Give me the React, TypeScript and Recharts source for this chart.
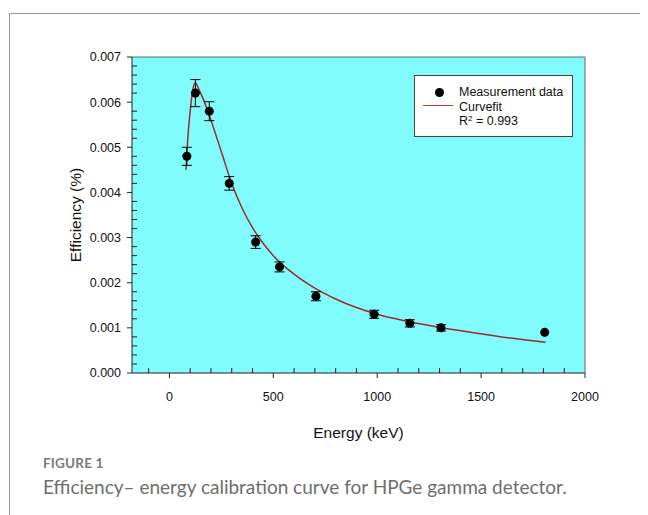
import {
  ComposedChart,
  Line,
  Scatter,
  ErrorBar,
  XAxis,
  YAxis,
  CartesianGrid,
  Legend,
} from 'recharts';

// measured points (keV, efficiency, error)
const energy = [84, 125, 192, 288, 415, 530, 705, 985, 1157, 1307, 1806];
const efficiency = [0.0048, 0.0062, 0.0058, 0.0042, 0.0029, 0.00235, 0.0017, 0.0013, 0.0011, 0.001, 0.0009];
const errors = [0.0002, 0.0003, 0.00021, 0.00015, 0.00014, 0.00011, 0.0001, 0.00009, 0.00008, 0.00007, 0];

// fitted curve
const fitEnergy = [80, 90, 100, 110, 125, 140, 160, 200, 250, 300, 350, 400, 450, 500, 600, 700, 800, 900, 1000, 1150, 1300, 1500, 1650, 1810];
const fitEfficiency = [0.0045, 0.0053, 0.0058, 0.0062, 0.00643, 0.0063, 0.0061, 0.0056, 0.0049, 0.0042, 0.00365, 0.00322, 0.00288, 0.0026, 0.00219, 0.00188, 0.00164, 0.00145, 0.0013, 0.00114, 0.00101, 0.00087, 0.00077, 0.00068];

const xTicks = [0, 500, 1000, 1500, 2000];
const xMinorTicks = [-100, 100, 200, 300, 400, 600, 700, 800, 900, 1100, 1200, 1300, 1400, 1600, 1700, 1800, 1900];
const yTicks = [0, 0.001, 0.002, 0.003, 0.004, 0.005, 0.006, 0.007];
const yMinorTicks = [
  0.0002, 0.0004, 0.0006, 0.0008, 0.0012, 0.0014, 0.0016, 0.0018,
  0.0022, 0.0024, 0.0026, 0.0028, 0.0032, 0.0034, 0.0036, 0.0038,
  0.0042, 0.0044, 0.0046, 0.0048, 0.0052, 0.0054, 0.0056, 0.0058,
  0.0062, 0.0064, 0.0066, 0.0068,
];

const points = energy.map((e, i) => ({ e, v: efficiency[i], err: errors[i] }));
const curve = fitEnergy.map((e, i) => ({ e, v: fitEfficiency[i] }));
const allXTicks = [...xTicks, ...xMinorTicks].sort((a, b) => a - b);

const FONT = '"Liberation Sans", Arial, sans-serif';
const X_DOMAIN: [number, number] = [-180, 2000];
const Y_DOMAIN: [number, number] = [0, 0.007];
const X_TICK_SIZE = 5;
const X_TICK_MARGIN = 14;

// majors point down with a label, minors point up into the plot
const XTick = (props: any) => {
  const { x, y, payload } = props;
  const axisY = y - X_TICK_SIZE - X_TICK_MARGIN;
  const major = xTicks.includes(payload.value);
  return (
    <g>
      <line x1={x} x2={x} y1={axisY} y2={major ? axisY + X_TICK_SIZE : axisY - X_TICK_SIZE} stroke="#222" />
      {major && (
        <text x={x} y={y} dy="0.71em" textAnchor="middle" fill="#111" fontSize={12.5} fontFamily={FONT}>
          {payload.value}
        </text>
      )}
    </g>
  );
};

const NoLabel = () => <g />;

const renderLegend = () => (
  <div
    style={{
      position: 'relative',
      width: 157,
      height: 60,
      background: '#fff',
      border: '1px solid #444',
      fontFamily: FONT,
      fontSize: 12.5,
      color: '#111',
    }}
  >
    <span style={{ position: 'absolute', left: 20, top: 12, width: 9, height: 9, borderRadius: '50%', background: '#000' }} />
    <span style={{ position: 'absolute', left: 8, top: 29, width: 30, height: 0, borderTop: '1.5px solid #c0392b' }} />
    <div style={{ position: 'absolute', left: 44, top: 9, lineHeight: '14.5px' }}>
      <div>Measurement data</div>
      <div>Curvefit</div>
      <div>
        R<sup style={{ fontSize: 8, verticalAlign: 'top', lineHeight: '10px' }}>2</sup> = 0.993
      </div>
    </div>
  </div>
);

export default function App() {
  return (
    <div style={{ position: 'relative', width: 632, height: 507, overflow: 'hidden' }}>
      {/* card outline */}
      <div
        style={{
          position: 'absolute',
          left: 1,
          top: 5,
          width: 700,
          height: 520,
          borderLeft: '1px solid #9a9a9a',
          borderTop: '1px solid #9a9a9a',
        }}
      />

      <div style={{ position: 'absolute', left: 0, top: 0 }}>
        <ComposedChart width={600} height={440} margin={{ top: 48, right: 22, left: 64, bottom: 5 }}>
          <CartesianGrid fill="#80fcfc" fillOpacity={1} stroke="none" horizontal={false} vertical={false} />

          <XAxis
            dataKey="e"
            type="number"
            domain={X_DOMAIN}
            allowDataOverflow
            ticks={allXTicks}
            interval={0}
            height={70}
            tickSize={X_TICK_SIZE}
            tickMargin={X_TICK_MARGIN}
            tickLine={false}
            stroke="#222"
            tick={XTick}
            label={{ value: 'Energy (keV)', position: 'insideBottom', offset: 5, fill: '#111', fontSize: 15.5, fontFamily: FONT }}
          />
          <XAxis xAxisId="top" orientation="top" type="number" domain={X_DOMAIN} allowDataOverflow height={1} tick={false} tickLine={false} stroke="#666" />

          <YAxis
            dataKey="v"
            type="number"
            domain={Y_DOMAIN}
            allowDataOverflow
            ticks={yTicks}
            width={60}
            tickSize={5}
            tickMargin={6}
            stroke="#222"
            tickFormatter={(v: number) => v.toFixed(3)}
            tick={{ fill: '#111', fontSize: 12.5, fontFamily: FONT }}
            label={{
              value: 'Efficiency (%)',
              angle: -90,
              position: 'insideLeft',
              offset: 3,
              fill: '#111',
              fontSize: 15.5,
              fontFamily: FONT,
              style: { textAnchor: 'middle' },
            }}
          />
          <YAxis
            yAxisId="minor"
            type="number"
            domain={Y_DOMAIN}
            allowDataOverflow
            ticks={yMinorTicks}
            interval={0}
            mirror
            width={1}
            tick={NoLabel}
            tickLine={{ stroke: '#222' }}
            tickSize={5}
            axisLine={false}
          />
          <YAxis yAxisId="right" orientation="right" type="number" domain={Y_DOMAIN} allowDataOverflow width={1} tick={false} tickLine={false} stroke="#666" />

          <Line
            data={curve}
            dataKey="v"
            type="monotone"
            stroke="#9e2a2a"
            strokeWidth={1.5}
            dot={false}
            activeDot={false}
            isAnimationActive={false}
          />
          <Scatter data={points} dataKey="v" fill="#000" isAnimationActive={false}>
            <ErrorBar dataKey="err" direction="y" width={5} stroke="#000" strokeWidth={1} isAnimationActive={false} />
          </Scatter>

          <Legend
            layout="vertical"
            align="center"
            verticalAlign="middle"
            content={renderLegend}
            wrapperStyle={{ left: 406, top: 67, width: 159, height: 62 }}
          />
        </ComposedChart>
      </div>

      {/* caption */}
      <div
        style={{
          position: 'absolute',
          left: 35,
          top: 447,
          fontFamily: 'Lato, "Open Sans", sans-serif',
          color: '#7a7a7a',
          fontSize: 13.5,
          fontWeight: 700,
          letterSpacing: 0.2,
        }}
      >
        FIGURE 1
      </div>
      <div
        style={{
          position: 'absolute',
          left: 35,
          top: 467,
          fontFamily: 'Lato, "Open Sans", sans-serif',
          color: '#6e6e6e',
          fontSize: 19,
          whiteSpace: 'nowrap',
        }}
      >
        Efficiency– energy calibration curve for HPGe gamma detector.
      </div>
    </div>
  );
}
